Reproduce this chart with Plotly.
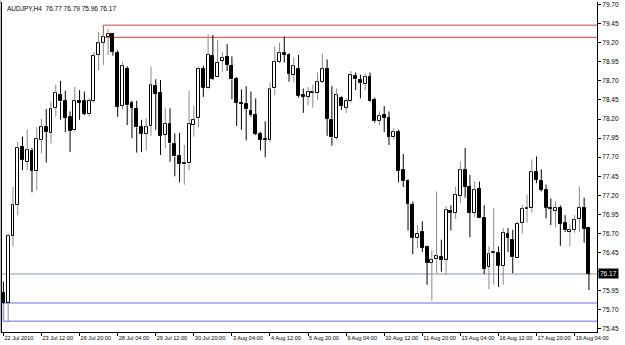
import plotly.graph_objects as go

symbol = "AUDJPY,H4"

opens = [75.92, 75.79, 76.67, 77.08, 77.84, 77.64, 77.78, 77.52, 77.93, 78.09,
         78.02, 78.35, 78.51, 78.44, 78.23, 78.05, 78.44, 78.43, 78.26, 78.44,
         79.04, 79.20, 79.27, 79.31, 79.07, 78.37, 78.86, 78.41, 78.33, 78.10,
         78.01, 78.11, 78.63, 78.54, 77.99, 78.13, 77.87, 77.72, 77.61, 77.62,
         78.12, 78.21, 78.86, 78.60, 79.03, 78.75, 78.96, 79.01, 78.89, 78.72,
         78.41, 78.40, 78.31, 78.25, 78.01, 77.94, 77.92, 78.60, 78.95, 79.06,
         79.04, 78.78, 78.86, 78.51, 78.49, 78.54, 78.54, 78.69, 78.86, 78.19,
         77.95, 78.47, 78.35, 78.43, 78.76, 78.71, 78.66, 78.75, 78.45, 78.18,
         78.25, 78.21, 77.96, 78.03, 77.53, 77.39, 77.07, 76.64, 76.72, 76.53,
         76.32, 76.36, 76.39, 76.35, 76.99, 76.97, 77.19, 77.53, 77.31, 76.97,
         77.28, 76.90, 76.26, 76.44, 76.45, 76.27, 76.70, 76.62, 76.38, 76.84,
         77.02, 77.03, 77.51, 77.39, 77.27, 77.04, 77.00, 77.03, 76.84, 76.72,
         76.75, 76.89, 77.03, 76.77]
highs = [76.07, 76.70, 77.31, 77.90, 77.97, 78.06, 77.82, 78.09, 78.20, 78.33,
         78.43, 78.65, 78.70, 78.57, 78.30, 78.62, 78.58, 78.56, 78.47, 79.08,
         79.34, 79.33, 79.38, 79.32, 79.10, 78.95, 78.89, 78.44, 78.44, 78.19,
         78.21, 78.89, 78.72, 78.71, 78.35, 78.34, 78.01, 78.02, 77.86, 78.57,
         78.37, 78.89, 78.90, 79.31, 79.30, 79.24, 79.08, 79.18, 79.02, 78.75,
         78.59, 78.63, 78.56, 78.47, 78.03, 78.17, 78.68, 79.15, 79.20, 79.28,
         79.06, 79.01, 79.04, 78.60, 78.62, 78.65, 78.81, 79.06, 78.98, 78.63,
         78.60, 78.50, 78.47, 78.83, 78.81, 78.78, 78.80, 78.81, 78.48, 78.30,
         78.37, 78.30, 78.08, 78.06, 77.74, 77.41, 77.12, 76.81, 76.86, 76.54,
         76.48, 77.25, 76.62, 77.06, 77.07, 77.31, 77.64, 77.82, 77.47, 77.38,
         77.38, 77.07, 76.53, 77.03, 76.53, 76.77, 76.77, 76.75, 76.86, 77.07,
         77.21, 77.67, 77.71, 77.54, 77.34, 77.16, 77.12, 77.07, 76.94, 76.83,
         76.94, 77.32, 77.17, 76.79]
lows = [75.78, 75.55, 76.53, 76.94, 77.53, 77.53, 77.24, 77.27, 77.75, 77.63,
        77.88, 78.23, 78.19, 78.03, 77.77, 78.03, 78.19, 78.25, 78.23, 78.41,
        78.84, 78.91, 79.04, 79.03, 78.23, 78.32, 78.12, 77.95, 77.76, 77.77,
        77.79, 77.98, 78.06, 77.73, 77.82, 77.64, 77.45, 77.37, 77.34, 77.53,
        77.97, 78.09, 78.49, 78.59, 78.71, 78.75, 78.82, 78.83, 78.46, 78.11,
        78.06, 77.92, 78.23, 77.99, 77.79, 77.70, 77.90, 78.51, 78.93, 78.94,
        78.69, 78.68, 78.48, 78.28, 78.38, 78.35, 78.45, 78.67, 77.98, 77.85,
        77.93, 78.32, 78.28, 78.41, 78.58, 78.47, 78.58, 78.43, 78.15, 78.12,
        78.03, 77.86, 77.93, 77.37, 77.31, 76.74, 76.43, 76.51, 76.46, 76.03,
        75.82, 76.18, 76.20, 76.16, 76.74, 76.89, 77.10, 77.17, 76.65, 76.92,
        76.90, 76.17, 75.97, 76.03, 76.00, 76.03, 76.46, 76.18, 76.38, 76.70,
        76.84, 76.97, 77.36, 77.25, 76.90, 76.81, 76.78, 76.54, 76.72, 76.53,
        76.71, 76.72, 76.58, 75.96]
closes = [75.79, 76.67, 77.07, 77.82, 77.66, 77.79, 77.52, 77.94, 78.09, 78.03,
          78.33, 78.54, 78.43, 78.22, 78.04, 78.44, 78.41, 78.27, 78.44, 79.03,
          79.19, 79.27, 79.31, 79.08, 78.36, 78.89, 78.38, 78.35, 78.09, 78.01,
          78.09, 78.64, 78.53, 77.98, 78.14, 77.88, 77.71, 77.61, 77.63, 78.13,
          78.19, 78.86, 78.61, 79.04, 78.73, 78.94, 79.00, 78.91, 78.72, 78.41,
          78.40, 78.33, 78.25, 78.01, 77.93, 77.93, 78.59, 78.95, 79.06, 79.04,
          78.79, 78.89, 78.50, 78.49, 78.55, 78.55, 78.69, 78.86, 78.20, 77.96,
          78.51, 78.37, 78.44, 78.78, 78.72, 78.67, 78.75, 78.44, 78.17, 78.24,
          78.22, 77.97, 78.03, 77.52, 77.39, 77.09, 76.64, 76.70, 76.51, 76.32,
          76.35, 76.40, 76.35, 77.01, 76.97, 77.21, 77.53, 77.31, 76.97, 77.27,
          76.90, 76.24, 76.43, 76.46, 76.28, 76.71, 76.64, 76.39, 76.83, 77.02,
          77.04, 77.50, 77.40, 77.27, 77.04, 77.02, 77.04, 76.83, 76.74, 76.75,
          76.88, 77.04, 76.76, 76.17]

date_labels = ["22 Jul 2010", "23 Jul 12:00", "26 Jul 20:00", "28 Jul 04:00",
               "29 Jul 12:00", "30 Jul 20:00", "3 Aug 04:00", "4 Aug 12:00",
               "5 Aug 20:00", "9 Aug 04:00", "10 Aug 12:00", "11 Aug 20:00",
               "13 Aug 04:00", "16 Aug 12:00", "17 Aug 20:00", "19 Aug 04:00"]
date_label_bars = [0, 8, 16, 24, 32, 40, 48, 56, 64, 72, 80, 88, 96, 104, 112, 120]

price_ticks = [75.45, 75.70, 75.95, 76.20, 76.45, 76.70, 76.95, 77.20, 77.45,
               77.70, 77.95, 78.20, 78.45, 78.70, 78.95, 79.20, 79.45, 79.70]

bid_price = 76.17
resist_zone = [79.27, 79.43]
resist_start_bar = 21
support_zone = [75.55, 75.79]
support_start_bar = 0

FONT = "Liberation Sans, Arial, sans-serif"
n = len(opens)
xs = list(range(n))

fig = go.Figure()

# wicks (split into upper/lower parts so bodies are not crossed)
for bull, col in ((True, "#8a8a8a"), (False, "#000000")):
    wx, wy = [], []
    for i in xs:
        o, h, l, c = opens[i], highs[i], lows[i], closes[i]
        if (c >= o) != bull:
            continue
        top, bot = max(o, c), min(o, c)
        wx += [i, i, None, i, i, None]
        wy += [bot, l, None, top, h, None]
    fig.add_trace(go.Scatter(x=wx, y=wy, mode="lines",
                             line=dict(color=col, width=1),
                             hoverinfo="skip", showlegend=False))

# bodies
for bull, fill in ((True, "#ffffff"), (False, "#000000")):
    bx, bb, bh = [], [], []
    for i in xs:
        o, c = opens[i], closes[i]
        if (c >= o) != bull:
            continue
        bx.append(i)
        bb.append(min(o, c))
        bh.append(max(abs(c - o), 0.004))
    fig.add_trace(go.Bar(x=bx, base=bb, y=bh, width=0.6,
                         marker=dict(color=fill, line=dict(color="#000000", width=1)),
                         hoverinfo="skip", showlegend=False))

shapes = [
    dict(type="line", xref="paper", yref="y", x0=0, x1=1, y0=bid_price, y1=bid_price,
         line=dict(color="#8a98a4", width=1), layer="below"),
    dict(type="rect", xref="x", yref="y", x0=resist_start_bar, x1=200,
         y0=resist_zone[0], y1=resist_zone[1],
         line=dict(color="#e03a3a", width=1), layer="below"),
    dict(type="rect", xref="x", yref="y", x0=support_start_bar, x1=200,
         y0=support_zone[0], y1=support_zone[1],
         line=dict(color="#9a9af5", width=1.6), layer="below"),
    dict(type="line", xref="paper", yref="paper", x0=-0.0035, x1=-0.0035, y0=0, y1=1.03,
         line=dict(color="#555555", width=1)),
]

annotations = [
    dict(text=f"{symbol}  {opens[-1]:.2f} {highs[-1]:.2f} {lows[-1]:.2f} {closes[-1]:.2f}",
         xref="paper", yref="paper", x=0.005, y=0.997, xanchor="left", yanchor="top",
         showarrow=False, font=dict(family=FONT, size=6.5, color="#000000")),
    dict(text=f"{bid_price:.2f}", xref="paper", yref="y", x=1, y=bid_price,
         xanchor="left", yanchor="middle", xshift=1, showarrow=False,
         bgcolor="#000000", borderpad=1,
         font=dict(family=FONT, size=6.5, color="#ffffff")),
]

fig.update_layout(
    width=625, height=345,
    margin=dict(l=2, r=28, t=2, b=13, autoexpand=False),
    paper_bgcolor="#ffffff", plot_bgcolor="#ffffff",
    barmode="overlay", bargap=0,
    showlegend=False,
    shapes=shapes, annotations=annotations,
    font=dict(family=FONT, size=6.5, color="#000000"),
)

fig.update_xaxes(
    range=[-0.3, 124.7], showgrid=False, zeroline=False,
    tickmode="array", tickvals=date_label_bars, ticktext=date_labels,
    ticks="outside", ticklen=3, tickcolor="#000000", tickwidth=1,
    ticklabelposition="outside right", tickangle=0, automargin=False,
    showline=True, linecolor="#000000", linewidth=1, mirror=False,
    tickfont=dict(family=FONT, size=5.6, color="#000000"),
)
fig.update_yaxes(
    range=[75.41, 79.733], side="right", showgrid=False, zeroline=False,
    tickmode="array", tickvals=price_ticks,
    ticktext=["" if abs(v - 76.20) < 1e-6 else f"{v:.2f}" for v in price_ticks],
    ticks="outside", ticklen=3, tickcolor="#000000", tickwidth=1, automargin=False,
    showline=True, linecolor="#000000", linewidth=1, mirror=True,
    tickfont=dict(family=FONT, size=6.5, color="#000000"),
)

fig.write_html("out.html")
